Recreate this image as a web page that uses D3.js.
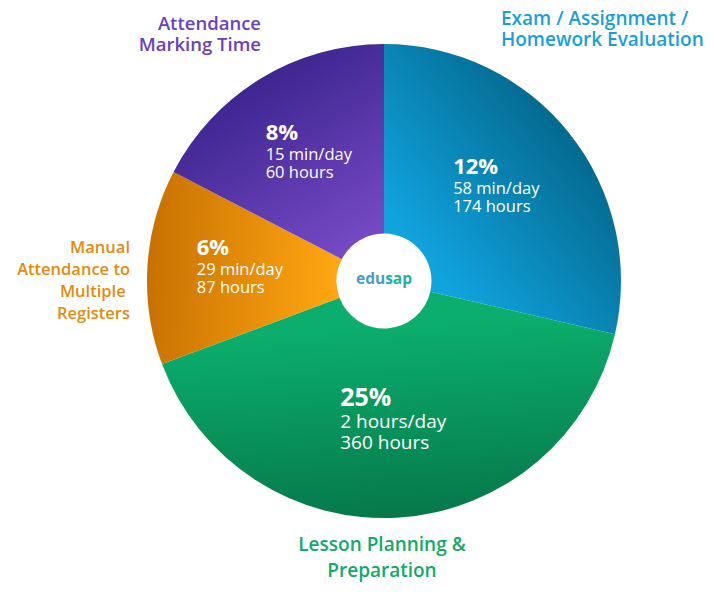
<!DOCTYPE html>
<html>
<head>
<meta charset="utf-8">
<script src="https://cdn.jsdelivr.net/npm/d3@7"></script>
<style>
  body { margin: 0; background: #fff; }
  svg { display: block; font-family: 'Open Sans', sans-serif; }
</style>
</head>
<body>
<script>
// slice order goes clockwise from 12 o'clock
let categories = ['Exam / Assignment / Homework Evaluation', 'Lesson Planning & Preparation', 'Manual Attendance to Multiple Registers', 'Attendance Marking Time'];
let titleLines = [['Exam / Assignment /', 'Homework Evaluation'], ['Lesson Planning &', 'Preparation'], ['Manual', 'Attendance to', 'Multiple\u00a0', 'Registers'], ['Attendance', 'Marking Time']];
let sliceShare = [28.6, 40.7, 13.3, 17.4];
let percents = ['12%', '25%', '6%', '8%'];
let perDay = ['58 min/day', '2 hours/day', '29 min/day', '15 min/day'];
let hours = ['174 hours', '360 hours', '87 hours', '60 hours'];

let width = 714;
let height = 596;
let cx = 384, cy = 281;
let radius = 237;
let holeRadius = 47.5;

let lightColors = ['#10a3de', '#0bae6c', '#ffa612', '#7549c4'];
let darkColors = ['#046a90', '#06784a', '#c87100', '#3e2690'];
let titleColors = ['#189fdb', '#13a96a', '#e48a0f', '#6b3fc2'];

// where the outside titles sit (x, first baseline, anchor, size, line gap)
let titlePos = [
    { x: 501, y: 25, anchor: 'start', size: 19, gap: 21 },
    { x: 382, y: 551, anchor: 'middle', size: 19, gap: 26 },
    { x: 130, y: 253, anchor: 'end', size: 16.5, gap: 22 },
    { x: 261, y: 30, anchor: 'end', size: 18.5, gap: 21 }
];

let svg = d3.select('body')
            .append('svg')
            .attr('width', width)
            .attr('height', height)

let defs = svg.append('defs');

let pie = d3.pie()
            .sort(null)
            .startAngle(0)
            .endAngle(2 * Math.PI)
            .value(d => d);

let arcs = pie(sliceShare);

let arc = d3.arc()
            .innerRadius(holeRadius)
            .outerRadius(radius);

let labelArc = d3.arc()
            .innerRadius(144)
            .outerRadius(144);

let g = svg.append('g')
           .attr('transform', 'translate(' + cx + ',' + cy + ')');

// one gradient per slice, light at the centre, dark at the rim
arcs.forEach((a, i) => {
    let mid = (a.startAngle + a.endAngle) / 2;
    let grad = defs.append('linearGradient')
        .attr('id', 'grad' + i)
        .attr('gradientUnits', 'userSpaceOnUse')
        .attr('x1', 0).attr('y1', 0)
        .attr('x2', Math.sin(mid) * radius)
        .attr('y2', -Math.cos(mid) * radius);
    grad.append('stop').attr('offset', '0.2').attr('stop-color', lightColors[i]);
    grad.append('stop').attr('offset', '1').attr('stop-color', darkColors[i]);
});

g.selectAll('path.slice')
    .data(arcs)
    .enter()
    .append('path')
    .attr('class', 'slice')
    .attr('d', arc)
    .attr('fill', (d, i) => 'url(#grad' + i + ')');

// labels inside the slices
let labels = g.selectAll('g.label')
    .data(arcs)
    .enter()
    .append('g')
    .attr('class', 'label')
    .attr('fill', '#fff');

labels.each(function(d, i) {
    let big = i === 1;
    let lab = d3.select(this);
    lab.append('text')
        .attr('x', 0).attr('y', 0)
        .style('font-size', big ? '25px' : '22px')
        .style('font-weight', 700)
        .text(percents[i]);
    lab.append('text')
        .attr('x', 0).attr('y', big ? 22 : 20)
        .style('font-size', big ? '19px' : '16.5px')
        .text(perDay[i]);
    lab.append('text')
        .attr('x', 0).attr('y', big ? 43 : 38)
        .style('font-size', big ? '19px' : '16.5px')
        .text(hours[i]);
    let box = this.getBBox();
    let c = labelArc.centroid(d);
    lab.attr('transform', 'translate(' + (c[0] - box.x - box.width / 2) + ',' + (c[1] - 8 - box.y - box.height / 2) + ')');
});

// brand in the hole
let brand = g.append('text')
    .attr('text-anchor', 'middle')
    .attr('y', 3)
    .style('font-size', '15.5px')
    .style('font-weight', 700);
brand.append('tspan').attr('fill', '#4b9ad2').text('edu');
brand.append('tspan').attr('fill', '#1fb2a2').text('sap');

// outside titles
titleLines.forEach((lines, i) => {
    let p = titlePos[i];
    let t = svg.append('text')
        .attr('text-anchor', p.anchor)
        .attr('fill', titleColors[i])
        .style('font-size', p.size + 'px')
        .style('font-weight', 600)
        .style('white-space', 'pre');
    lines.forEach((line, j) => {
        t.append('tspan')
            .attr('x', p.x)
            .attr('y', p.y + j * p.gap)
            .text(line);
    });
});
</script>
</body>
</html>
